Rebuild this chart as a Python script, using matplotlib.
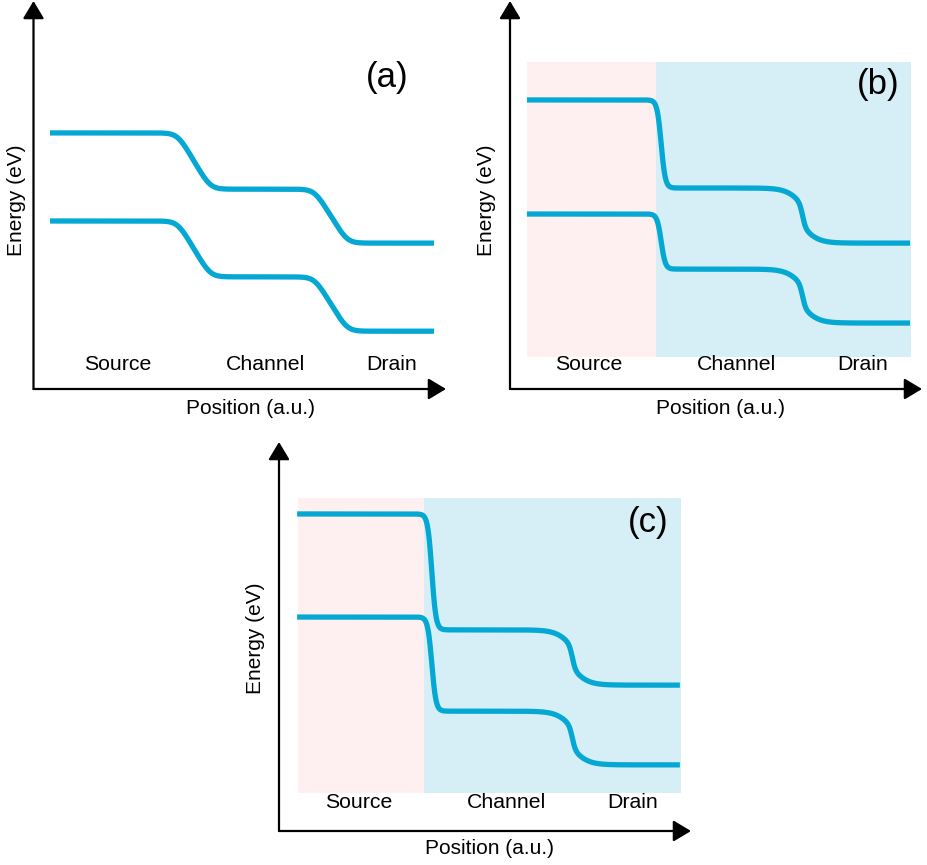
import numpy as np
import matplotlib.pyplot as plt

plt.rcParams['font.family'] = ['Liberation Sans', 'DejaVu Sans']

regions = ['Source', 'Channel', 'Drain']
panel_tags = ['(a)', '(b)', '(c)']

# band edges: levels in source, channel, drain (a.u.)
upper_levels = [[66.0, 51.5, 37.6], [74.5, 51.8, 37.6], [81.5, 51.7, 37.5]]
lower_levels = [[43.3, 28.9, 14.9], [45.1, 30.9, 17.0], [55.0, 30.8, 17.0]]

# interface positions: source/channel and channel/drain
interfaces = [[38.9, 72.1], [36.7, 71.0], [37.1, 71.2]]

# each interface: (ramp length, corner softness, broad width, share of broad part)
# ramp length 0 means a plain tanh step
transitions = [
    [(7.8, 1.0, 1.0, 0.0), (7.8, 1.0, 1.0, 0.0)],
    [(0.0, 1.0, 1.0, 0.0), (0.0, 0.75, 3.9, 0.6)],
    [(0.0, 1.0, 1.0, 0.0), (0.0, 0.75, 3.9, 0.6)],
]

# extent of the plotted bands
band_span = [(4.0, 97.1), (4.1, 97.1), (4.4, 97.3)]

# shaded source / channel+drain zones (x0, x_interface, x1, y0, y1), none for (a)
zones = [None, (4.1, 35.4, 97.3, 8.2, 84.3), (4.6, 35.2, 97.6, 9.8, 85.6)]

# axes boxes in pixels: origin x, origin y (from top), arrow tip x, arrow tip y
W, H = 928, 865
boxes = [(33.5, 389, 446, 1), (510, 389, 922, 1), (279, 831, 691, 442)]

line_color = '#04A8D3'
pink = '#FEF0F0'
blue = '#D6EFF7'


def step(x, c, length, soft):
    # 0 -> 1 around c: smoothed linear ramp, or tanh when length is 0
    if length == 0:
        return 0.5 * (1 + np.tanh((x - c) / soft))
    a = (x - c + length / 2) / soft
    b = (x - c - length / 2) / soft
    return soft / length * (np.logaddexp(0, a) - np.logaddexp(0, b))


def band(x, levels, centers, widths):
    y = np.full_like(x, levels[0])
    for i, (c, (length, soft, wb, fb)) in enumerate(zip(centers, widths)):
        drop = levels[i] - levels[i + 1]
        sharp = step(x, c, length, soft)
        broad = 0.5 * (1 + np.tanh((x - c) / wb))
        y -= drop * ((1 - fb) * sharp + fb * broad)
    return y


fig = plt.figure(figsize=(W / 100, H / 100), dpi=100)

label_y = [6.2, 6.2, 7.2]
label_x = [[20.4, 56.2, 86.9], [19.1, 54.9, 85.6], [19.3, 55.1, 85.8]]
tag_xy = [(85.8, 80.4), (89.4, 78.6), (89.6, 79.4)]
pos_label = [(52.7, -4.9), (51.2, -4.9), (51.0, -4.4)]
energy_label = [(-4.2, 48.7), (-5.7, 48.7), (-5.6, 49.6)]

for k in range(3):
    x0, y0, x1, y1 = boxes[k]
    ax = fig.add_axes([x0 / W, (H - y0) / H, (x1 - x0) / W, (y0 - y1) / H])
    ax.set_xlim(0, 100)
    ax.set_ylim(0, 100)
    ax.axis('off')

    # shaded regions
    if zones[k] is not None:
        za, zb, zc, zy0, zy1 = zones[k]
        ax.fill_between([za, zb], zy0, zy1, color=pink, lw=0, zorder=0)
        ax.fill_between([zb, zc], zy0, zy1, color=blue, lw=0, zorder=0)

    # conduction / valence band edges
    x = np.linspace(band_span[k][0], band_span[k][1], 1500)
    for lv in (upper_levels[k], lower_levels[k]):
        ax.plot(x, band(x, lv, interfaces[k], transitions[k]),
                color=line_color, lw=3.8, solid_capstyle='butt', zorder=2)

    # axes with arrow heads
    arrow = dict(arrowstyle='-|>,head_length=0.4,head_width=0.24',
                 mutation_scale=27, lw=1.6, color='black',
                 shrinkA=0, shrinkB=0)
    ax.annotate('', xy=(1, 0), xytext=(0, 0), xycoords='axes fraction',
                arrowprops=arrow, annotation_clip=False)
    ax.annotate('', xy=(0, 1), xytext=(0, 0), xycoords='axes fraction',
                arrowprops=arrow, annotation_clip=False)

    for name, lx in zip(regions, label_x[k]):
        ax.text(lx, label_y[k], name, ha='center', va='center', fontsize=15.3)
    ax.text(tag_xy[k][0], tag_xy[k][1], panel_tags[k], ha='center',
            va='center', fontsize=25)
    ax.text(pos_label[k][0], pos_label[k][1], 'Position (a.u.)',
            ha='center', va='center', fontsize=15, clip_on=False)
    ax.text(energy_label[k][0], energy_label[k][1], 'Energy (eV)',
            ha='center', va='center', rotation=90, fontsize=15, clip_on=False)

fig.savefig('out.png', dpi=100)
